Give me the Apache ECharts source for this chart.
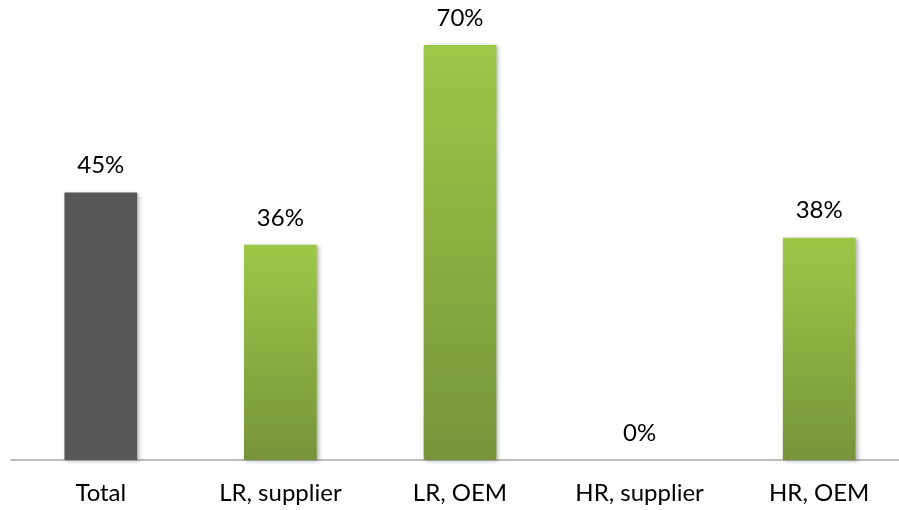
<!DOCTYPE html>
<html><head><meta charset="utf-8">
<script src="https://cdn.jsdelivr.net/npm/echarts@6/dist/echarts.min.js"></script>
<style>html,body{margin:0;padding:0;background:#fff;overflow:hidden;width:899px;height:510px}#c{width:909px;height:510px}</style>
</head><body><div id="c"></div>
<script>
const categories = ['Total', 'LR, supplier', 'LR, OEM', 'HR, supplier', 'HR, OEM'];
const values = [0.451, 0.363, 0.70, 0.0, 0.375];
const labels = ['45%', '36%', '70%', '0%', '38%'];

const green = new echarts.graphic.LinearGradient(0, 0, 0, 1, [
  {offset: 0, color: '#9ec747'},
  {offset: 1, color: '#76953a'}
]);
const data = values.map((v, i) => ({
  value: v,
  itemStyle: {color: i === 0 ? '#575757' : green}
}));

const chart = echarts.init(document.getElementById('c'));
chart.setOption({
  animation: false,
  grid: {left: 11, right: 0, top: 45, bottom: 50, containLabel: false},
  xAxis: {
    type: 'category', data: categories,
    axisLine: {lineStyle: {color: '#a6a6a6', width: 1.5}},
    axisTick: {show: false},
    axisLabel: {color: '#000', fontFamily: 'Lato', fontSize: 24, margin: 21}
  },
  yAxis: {type: 'value', min: 0, max: 0.7, show: false, splitLine: {show: false}},
  series: [{
    type: 'bar', data: data, barWidth: '40.5%',
    itemStyle: {shadowBlur: 4, shadowColor: 'rgba(0,0,0,0.3)', shadowOffsetX: 2, shadowOffsetY: 1},
    label: {
      show: true, position: 'top', distance: 15, color: '#000',
      fontFamily: 'Lato', fontSize: 24,
      formatter: p => labels[p.dataIndex]
    }
  }]
});
</script></body></html>
